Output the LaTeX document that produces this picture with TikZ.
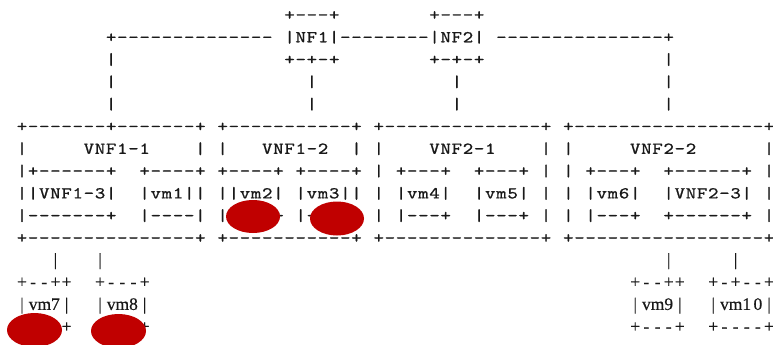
\documentclass[tikz,border=0pt]{standalone}
\usepackage{fontspec}
\usepackage{graphicx}
\usetikzlibrary{shapes.geometric}
\newfontfamily\serifascii{Liberation Serif}[FakeBold=0.5]
\newfontfamily\monoascii{lmmono10-regular.otf}[FakeBold=0.8]
\definecolor{markred}{RGB}{192,0,0}
\definecolor{ink}{RGB}{25,25,25}

% one character per grid cell: column pitch 11.15, row pitch 22.3
\newcount\asccol
\def\glyphmono#1{\scalebox{1.2}[1]{#1}}
\def\glyphserif#1{#1}
\newcommand\asciirun[4]{%
  \tikzset{ascii/.style={#1}}%
  \expandafter\let\expandafter\ascglyph\csname glyph#1\endcsname
  \def\ascrow{#2}\asccol=#3\relax
  \ascnext#4\relax}
\def\ascnext#1{%
  \ifx\relax#1\else
    \node[ascii] (ch-\ascrow-\the\asccol) at ({22+11.15*\the\asccol},{20+22.3*(\ascrow-1)}) {\ascglyph{#1}};%
    \advance\asccol by 1\relax
    \expandafter\ascnext
  \fi}

\begin{document}
\begin{tikzpicture}[x=1pt,y=-1pt,
  mono/.style={font=\monoascii\fontsize{16.6}{16.6}\selectfont, anchor=base, inner sep=0pt, text=ink},
  serif/.style={font=\serifascii\fontsize{17.5}{17.5}\selectfont, anchor=base, inner sep=0pt, text=ink},
  redmark/.style={ellipse, fill=markred, draw=none, inner sep=0pt}]
\fill[white] (0,0) rectangle (773,345);
\useasboundingbox (0,0) rectangle (773,345);

% NF1 / NF2 and the links down to the VNFs
\asciirun{mono}{1}{24}{+---+}
\asciirun{mono}{1}{37}{+---+}
\asciirun{mono}{2}{8}{+--------------}
\asciirun{mono}{2}{24}{|NF1|--------|NF2|}
\asciirun{mono}{2}{43}{---------------+}
\asciirun{mono}{3}{8}{|}
\asciirun{mono}{3}{24}{+-+-+}
\asciirun{mono}{3}{37}{+-+-+}
\asciirun{mono}{3}{58}{|}
\asciirun{mono}{4}{8}{|}
\asciirun{mono}{4}{26}{|}
\asciirun{mono}{4}{39}{|}
\asciirun{mono}{4}{58}{|}
\asciirun{mono}{5}{8}{|}
\asciirun{mono}{5}{26}{|}
\asciirun{mono}{5}{39}{|}
\asciirun{mono}{5}{58}{|}

% the four VNF boxes
\asciirun{mono}{6}{0}{+-------+-------+}
\asciirun{mono}{6}{18}{+-----------+}
\asciirun{mono}{6}{32}{+--------------+}
\asciirun{mono}{6}{49}{+-----------------+}

\asciirun{mono}{7}{0}{|}
\asciirun{mono}{7}{6}{VNF1-1}
\asciirun{mono}{7}{16}{|}
\asciirun{mono}{7}{18}{|}
\asciirun{mono}{7}{22}{VNF1-2}
\asciirun{mono}{7}{30}{|}
\asciirun{mono}{7}{32}{|}
\asciirun{mono}{7}{37}{VNF2-1}
\asciirun{mono}{7}{47}{|}
\asciirun{mono}{7}{49}{|}
\asciirun{mono}{7}{55}{VNF2-2}
\asciirun{mono}{7}{67}{|}

\asciirun{mono}{8}{0}{|+------+}
\asciirun{mono}{8}{11}{+----+}
\asciirun{mono}{8}{18}{+----+}
\asciirun{mono}{8}{25}{+----+}
\asciirun{mono}{8}{32}{|}
\asciirun{mono}{8}{34}{+---+}
\asciirun{mono}{8}{41}{+---+}
\asciirun{mono}{8}{47}{|}
\asciirun{mono}{8}{49}{|}
\asciirun{mono}{8}{51}{+---+}
\asciirun{mono}{8}{58}{+------+}
\asciirun{mono}{8}{67}{|}

\asciirun{mono}{9}{0}{||VNF1-3|}
\asciirun{mono}{9}{11}{|vm1||}
\asciirun{mono}{9}{18}{||vm2|}
\asciirun{mono}{9}{25}{|vm3||}
\asciirun{mono}{9}{32}{|}
\asciirun{mono}{9}{34}{|vm4|}
\asciirun{mono}{9}{41}{|vm5|}
\asciirun{mono}{9}{47}{|}
\asciirun{mono}{9}{49}{|}
\asciirun{mono}{9}{51}{|vm6|}
\asciirun{mono}{9}{58}{|VNF2-3|}
\asciirun{mono}{9}{67}{|}

\asciirun{mono}{10}{0}{|-------+}
\asciirun{mono}{10}{11}{|----|}
\asciirun{mono}{10}{18}{||---+}
\asciirun{mono}{10}{25}{|---+|}
\asciirun{mono}{10}{32}{|}
\asciirun{mono}{10}{34}{|---+}
\asciirun{mono}{10}{41}{|---+}
\asciirun{mono}{10}{47}{|}
\asciirun{mono}{10}{49}{|}
\asciirun{mono}{10}{51}{|---+}
\asciirun{mono}{10}{58}{+------+}
\asciirun{mono}{10}{67}{|}

\asciirun{mono}{11}{0}{+---------------+}
\asciirun{mono}{11}{18}{+-----------+}
\asciirun{mono}{11}{32}{+--------------+}
\asciirun{mono}{11}{49}{+-----------------+}

% VMs hanging below VNF1-3 and VNF2-3
\asciirun{serif}{12}{3}{|}
\asciirun{serif}{12}{7}{|}
\asciirun{serif}{12}{58}{|}
\asciirun{serif}{12}{64}{|}
\asciirun{serif}{13}{0}{+--++}
\asciirun{serif}{13}{7}{+---+}
\asciirun{serif}{13}{55}{+--++}
\asciirun{serif}{13}{62}{+-+--+}
\asciirun{serif}{14}{0}{|vm7|}
\asciirun{serif}{14}{7}{|vm8|}
\asciirun{serif}{14}{55}{|vm9|}
\asciirun{serif}{14}{62}{|vm10|}
\asciirun{serif}{15}{0}{+---+}
\asciirun{serif}{15}{7}{+---+}
\asciirun{serif}{15}{55}{+---+}
\asciirun{serif}{15}{62}{+----+}

% red marks
\node[redmark, minimum width=54pt, minimum height=33pt] (mark-vm2) at (253,216.5) {};
\node[redmark, minimum width=54pt, minimum height=34pt] (mark-vm3) at (337,218.5) {};
\node[redmark, minimum width=55pt, minimum height=34pt] (mark-vm7) at (34.5,330) {};
\node[redmark, minimum width=55pt, minimum height=34pt] (mark-vm8) at (118.5,331) {};
\end{tikzpicture}
\end{document}
